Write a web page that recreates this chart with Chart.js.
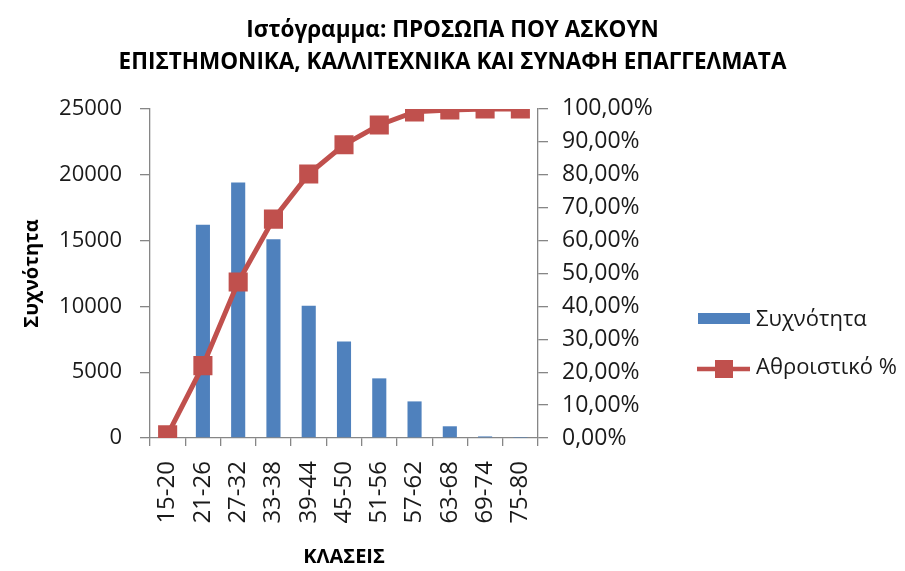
<!DOCTYPE html>
<html>
<head>
<meta charset="utf-8">
<script src="https://cdn.jsdelivr.net/npm/chart.js@4/dist/chart.umd.min.js"></script>
<style>
  html, body { margin: 0; padding: 0; background: #fff; }
  #wrap { width: 905px; height: 571px; }
</style>
</head>
<body>
<div id="wrap"><canvas id="histogram" width="905" height="571"></canvas></div>
<script>
// data
var classes = ['15-20', '21-26', '27-32', '33-38', '39-44', '45-50', '51-56', '57-62', '63-68', '69-74', '75-80'];
var frequency = [770, 16200, 19400, 15100, 10050, 7340, 4530, 2780, 890, 120, 15];
var cumulativePct = [1.0, 22.0, 47.4, 66.5, 80.2, 89.1, 95.1, 99.1, 99.7, 100, 100];
var freqTicks = [0, 5000, 10000, 15000, 20000, 25000];
var pctTicks = [0, 10, 20, 30, 40, 50, 60, 70, 80, 90, 100];

var seriesNames = ['Συχνότητα', 'Αθροιστικό %'];
var titleLines = ['Ιστόγραμμα: ΠΡΟΣΩΠΑ ΠΟΥ ΑΣΚΟΥΝ', 'ΕΠΙΣΤΗΜΟΝΙΚΑ, ΚΑΛΛΙΤΕΧΝΙΚΑ ΚΑΙ ΣΥΝΑΦΗ ΕΠΑΓΓΕΛΜΑΤΑ'];

var FONT = '"Open Sans", "Noto Sans", sans-serif';
var TEXT = '#1a1a1a';
var AXIS = '#868686';
var BLUE = '#4F81BD';
var RED = '#C0504D';

// legend on the right, Excel style (line + square marker)
var sideLegend = {
  id: 'sideLegend',
  afterDraw: function (chart) {
    var ctx = chart.ctx;
    var ds = chart.data.datasets;
    ctx.save();
    ctx.font = '22px ' + FONT;
    ctx.textBaseline = 'middle';
    // bars
    ctx.fillStyle = ds[1].backgroundColor;
    ctx.fillRect(698, 313, 52, 11);
    ctx.fillStyle = TEXT;
    ctx.fillText(ds[1].label, 756, 320);
    // cumulative line
    ctx.strokeStyle = ds[0].borderColor;
    ctx.lineWidth = 4.5;
    ctx.beginPath();
    ctx.moveTo(697, 369);
    ctx.lineTo(750, 369);
    ctx.stroke();
    ctx.fillStyle = ds[0].backgroundColor;
    ctx.fillRect(715, 360, 18, 18);
    ctx.fillStyle = TEXT;
    ctx.fillText(ds[0].label, 756, 368);
    ctx.restore();
  }
};

var ctx = document.getElementById('histogram').getContext('2d');
new Chart(ctx, {
  type: 'bar',
  data: {
    labels: classes,
    datasets: [{
      type: 'line',
      label: seriesNames[1],
      data: cumulativePct,
      yAxisID: 'y2',
      order: 0,
      borderColor: RED,
      backgroundColor: RED,
      borderWidth: 5,
      tension: 0,
      pointStyle: 'rect',
      pointRadius: 13.5,
      pointBorderWidth: 0,
      pointBackgroundColor: RED
    }, {
      label: seriesNames[0],
      data: frequency,
      yAxisID: 'y',
      order: 1,
      backgroundColor: BLUE,
      barPercentage: 0.4,
      categoryPercentage: 1.0
    }]
  },
  options: {
    responsive: false,
    devicePixelRatio: 1,
    animation: false,
    layout: { padding: 0 },
    plugins: {
      legend: { display: false },
      tooltip: { enabled: false },
      title: {
        display: true,
        text: titleLines,
        color: '#000',
        font: { family: FONT, size: 22.5, weight: 'bold', lineHeight: 1.42 },
        padding: { top: 15, bottom: 30 }
      }
    },
    scales: {
      x: {
        grid: { offset: true, drawOnChartArea: false, tickLength: 8, color: AXIS, lineWidth: 1.3 },
        border: { color: AXIS, width: 1.3 },
        ticks: { minRotation: 90, maxRotation: 90, autoSkip: false, padding: 15, color: TEXT,
                 font: { family: FONT, size: 24 } },
        title: { display: true, text: 'ΚΛΑΣΕΙΣ', color: '#000',
                 font: { family: FONT, size: 20, weight: 'bold' }, padding: { top: 0, bottom: 2 } },
        afterFit: function (s) { s.height = 133; }
      },
      y: {
        position: 'left',
        min: 0,
        max: 25000,
        grid: { drawOnChartArea: false, tickLength: 10, color: AXIS, lineWidth: 1.3 },
        border: { color: AXIS, width: 1.3 },
        afterBuildTicks: function (axis) { axis.ticks = freqTicks.map(function (v) { return { value: v }; }); },
        ticks: { padding: 18, color: TEXT, font: { family: FONT, size: 22 },
                 callback: function (v) { return String(v); } },
        title: { display: true, text: 'Συχνότητα', color: '#000',
                 font: { family: FONT, size: 20, weight: 'bold' }, padding: { top: 20, bottom: 0 } },
        afterFit: function (s) { s.width = 150; }
      },
      y2: {
        position: 'right',
        min: 0,
        max: 100,
        grid: { drawOnChartArea: false, tickLength: 10, color: AXIS, lineWidth: 1.3 },
        border: { color: AXIS, width: 1.3 },
        afterBuildTicks: function (axis) { axis.ticks = pctTicks.map(function (v) { return { value: v }; }); },
        ticks: { padding: 14, color: TEXT, font: { family: FONT, size: 23 },
                 callback: function (v) { return v.toFixed(2).replace('.', ',') + '%'; } },
        afterFit: function (s) { s.width = 367; }
      }
    }
  },
  plugins: [sideLegend]
});
</script>
</body>
</html>
